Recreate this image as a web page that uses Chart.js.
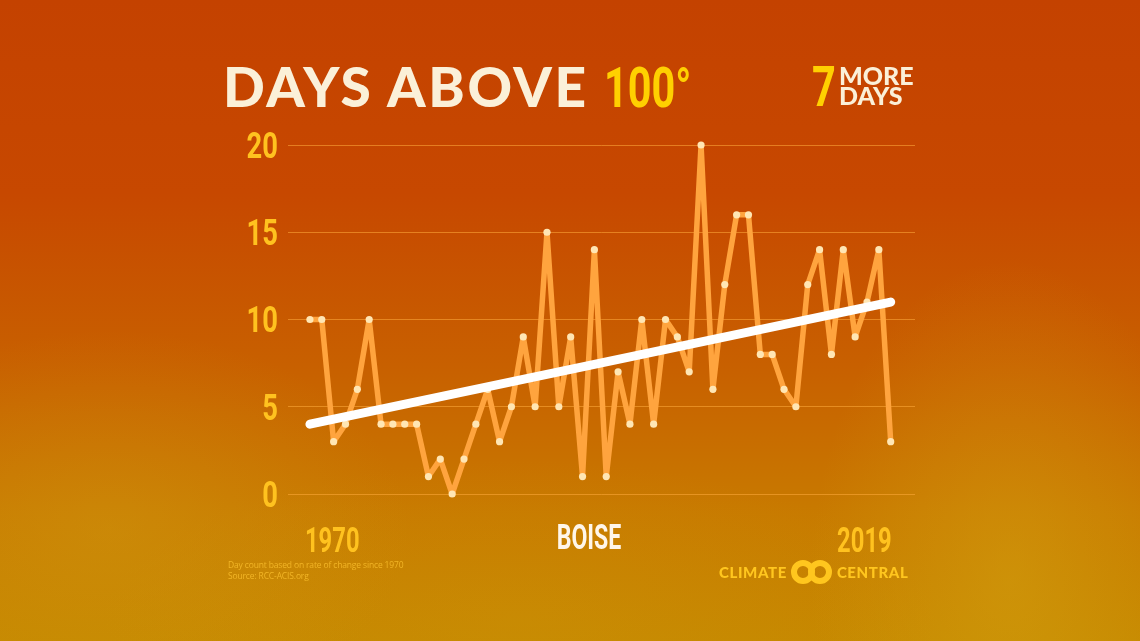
<!DOCTYPE html>
<html>
<head>
<meta charset="utf-8">
<script src="https://cdn.jsdelivr.net/npm/chart.js@4"></script>
<style>
  html, body { margin: 0; padding: 0; }
  body {
    width: 1140px; height: 641px; overflow: hidden; position: relative;
    background:
      radial-gradient(ellipse 300px 200px at 110px 530px, rgba(210,160,20,0.35), rgba(210,160,20,0)),
      radial-gradient(ellipse 200px 320px at 1010px 580px, rgba(215,170,20,0.4), rgba(215,170,20,0)),
      radial-gradient(ellipse 420px 160px at 520px 620px, rgba(205,150,10,0.3), rgba(205,150,10,0)),
      linear-gradient(180deg, #C44200 0%, #C74800 30%, #C86100 58%, #C87A00 80%, #C68800 100%);
    font-family: Lato, "Open Sans", sans-serif;
  }
  #wrap { position: absolute; left: 0; top: 0; width: 1140px; height: 641px; }
  .title {
    position: absolute; left: 223px; top: 59px; font-size: 55px; line-height: 1;
    font-weight: 900; color: #FBF0D8; white-space: nowrap; letter-spacing: 2.6px;
  }
  .cond { font-family: Roboto, sans-serif; font-weight: 700; display: inline-block; transform-origin: left center; }
  .title .hot { color: #FFD000; font-size: 56px; letter-spacing: 0; transform: scaleX(0.74); }
  .more { position: absolute; left: 812px; top: 59px; white-space: nowrap; }
  .more .seven { font-size: 56px; line-height: 1; color: #FFD000; position: absolute; left: 0; top: 0; transform: scaleX(0.74); }
  .more .words {
    position: absolute; left: 27px; top: 6px; font-weight: 900; font-size: 25px;
    line-height: 20px; color: #FBF0D8;
  }
  .city {
    position: absolute; left: 589px; top: 520px; font-size: 35px; line-height: 1;
    color: #FFF6EA; transform: translateX(-50%) scaleX(0.66); transform-origin: center;
    font-family: Roboto, sans-serif; font-weight: 700;
  }
  .note {
    position: absolute; left: 228px; top: 559px; font-family: "Open Sans", sans-serif;
    font-weight: 400; font-size: 8.5px; line-height: 11px; color: rgba(255,196,50,0.75);
    letter-spacing: -0.15px;
  }
  .logo {
    position: absolute; left: 719px; top: 560px; height: 24px; display: flex; align-items: center;
    color: #FFC61E; font-weight: 900; font-size: 15px; letter-spacing: 0.6px;
  }
  .rings { position: relative; width: 41px; height: 24px; margin: 0 5px 0 4px; }
  .rings span {
    position: absolute; top: 0; width: 12px; height: 12px; border-radius: 50%;
    border: 6px solid #FFC61E;
  }
</style>
</head>
<body>
<div id="wrap"><canvas id="chart" width="1140" height="641"></canvas></div>

<div class="title">DAYS ABOVE <span class="hot cond">100°</span></div>
<div class="more"><span class="seven cond">7</span><div class="words">MORE<br>DAYS</div></div>
<div class="city">BOISE</div>
<div class="note">Day count based on rate of change since 1970<br>Source: RCC-ACIS.org</div>
<div class="logo">CLIMATE<div class="rings"><span style="left:0"></span><span style="left:17px"></span></div>CENTRAL</div>

<script>
// days above 100 degrees, Boise, one value per year
const years = [];
for (let y = 1970; y <= 2019; y++) years.push(y);
const days = [
  10, 10, 3, 4, 6, 10, 4, 4, 4, 4,
  1, 2, 0, 2, 4, 6, 3, 5, 9, 5,
  15, 5, 9, 1, 14, 1, 7, 4, 10, 4,
  10, 9, 7, 20, 6, 12, 16, 16, 8, 8,
  6, 5, 12, 14, 8, 14, 9, 11, 14, 3
];
// trend line end points (1970 and 2019)
const trendYears = [1970, 2019];
const trendDays = [4, 11];
const yTicks = [0, 5, 10, 15, 20];
const xLabels = [1970, 2019];

const tickColor = "#FFC21F";

// tick labels in a squeezed bold face, placed by the chart's own scales
const condensedTicks = {
  id: "condensedTicks",
  afterDraw(chart) {
    const ctx = chart.ctx;
    const xs = chart.scales.x;
    const ys = chart.scales.y;
    ctx.save();
    ctx.fillStyle = tickColor;
    ctx.textBaseline = "alphabetic";

    ctx.font = "bold 36px Roboto";
    ctx.textAlign = "right";
    ys.ticks.forEach((t) => {
      const py = ys.getPixelForValue(t.value);
      ctx.save();
      ctx.translate(ys.right - 10, py + 12.8);
      ctx.scale(0.76, 1);
      ctx.fillText(String(t.value), 0, 0);
      ctx.restore();
    });

    ctx.font = "bold 35px Roboto";
    xs.ticks.forEach((t, i) => {
      const px = xs.getPixelForValue(t.value);
      ctx.save();
      ctx.textAlign = i === 0 ? "left" : "right";
      ctx.translate(i === 0 ? px - 5 : px + 1, 552);
      ctx.scale(0.68, 1);
      ctx.fillText(String(t.value), 0, 0);
      ctx.restore();
    });
    ctx.restore();
  },
};

new Chart(document.getElementById("chart"), {
  type: "line",
  data: {
    datasets: [
      {
        // trend goes first so it is drawn on top
        data: trendYears.map((x, i) => ({ x: x, y: trendDays[i] })),
        borderColor: "#FFFFFF",
        borderWidth: 9,
        borderCapStyle: "round",
        pointRadius: 0,
        clip: false,
      },
      {
        data: years.map((x, i) => ({ x: x, y: days[i] })),
        borderColor: "#FFA43E",
        borderWidth: 5.5,
        borderJoinStyle: "round",
        pointRadius: 3.6,
        pointBackgroundColor: "#FFE6B4",
        pointBorderWidth: 0,
        clip: false,
      },
    ],
  },
  options: {
    responsive: false,
    animation: false,
    layout: { padding: { left: 0, right: 225, top: 145, bottom: 0 } },
    plugins: { legend: { display: false }, tooltip: { enabled: false } },
    scales: {
      x: {
        type: "linear",
        min: 1968.15,
        max: 2021.05,
        grid: { display: false },
        border: { display: false },
        afterBuildTicks: (scale) => { scale.ticks = xLabels.map((v) => ({ value: v })); },
        afterFit: (scale) => { scale.height = 641 - 494; },
        ticks: { display: false },
      },
      y: {
        min: 0,
        max: 20,
        afterBuildTicks: (scale) => { scale.ticks = yTicks.map((v) => ({ value: v })); },
        afterFit: (scale) => { scale.width = 288; },
        grid: { color: "rgba(255,172,60,0.55)", lineWidth: 1, drawTicks: false },
        border: { display: false },
        ticks: { display: false },
      },
    },
  },
  plugins: [condensedTicks],
});
</script>
</body>
</html>
